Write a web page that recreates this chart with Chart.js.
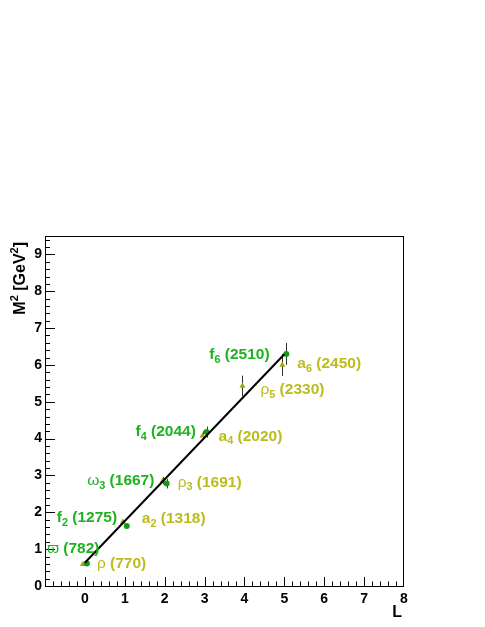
<!DOCTYPE html>
<html><head><meta charset="utf-8">
<script src="https://cdn.jsdelivr.net/npm/chart.js@4/dist/chart.umd.min.js"></script>
<style>html,body{margin:0;padding:0;background:#fff;}canvas{display:block;}</style>
</head><body>
<canvas id="c" width="485" height="627"></canvas>
<script>
// ---- data ----
const greenLabels = ['ϖ (782)', 'f_{2} (1275)', 'ω_{3} (1667)', 'f_{4} (2044)', 'f_{6} (2510)'];
const greenL      = [0, 1, 2, 3, 5];
const greenM2     = [0.612, 1.626, 2.779, 4.178, 6.30];
const greenErr    = [0.02, 0.03, 0.13, 0.15, 0.30];

const yellowLabels = ['ρ (770)', 'a_{2} (1318)', 'ρ_{3} (1691)', 'a_{4} (2020)', 'ρ_{5} (2330)', 'a_{6} (2450)'];
const yellowL      = [0, 1, 2, 3, 4, 5];
const yellowM2     = [0.593, 1.737, 2.859, 4.080, 5.43, 6.00];
const yellowErr    = [0.01, 0.05, 0.10, 0.12, 0.28, 0.30];

const trajL  = [0, 5];
const trajM2 = [0.63, 6.29];

const xTicks = [0, 1, 2, 3, 4, 5, 6, 7, 8];
const yTicks = [0, 1, 2, 3, 4, 5, 6, 7, 8, 9];

// ---- styles ----
const GREEN_TXT = '#1fb21f', GREEN_MK = '#129a12';
const YEL_TXT = '#bcbc1c', YEL_MK = '#a6a600';
const markerShift = 0.05;
const greenOffsets  = [[-40,-14.5],[-70,-8],[-79.5,-2.6],[-71,0],[-77,1]];
const yellowOffsets = [[14,0],[19,-3],[15,2],[16,1],[18,4],[15,-1]];
const FONT = '"Liberation Sans", Arial, Helvetica, sans-serif';
const LABEL_SIZE = 15.5;

function parseRich(s){
  const out=[]; const re=/_\{([^}]*)\}/g; let last=0, m;
  while((m=re.exec(s))){ if(m.index>last) out.push({t:s.slice(last,m.index),sub:false}); out.push({t:m[1],sub:true}); last=re.lastIndex; }
  if(last<s.length) out.push({t:s.slice(last),sub:false});
  return out;
}
function drawRich(ctx, s, x, yc, size, color){
  ctx.save(); ctx.fillStyle=color; ctx.textBaseline='middle'; ctx.textAlign='left';
  let cx=x;
  for(const seg of parseRich(s)){
    if(seg.sub){
      ctx.font='bold '+(size*0.7)+'px '+FONT;
      ctx.fillText(seg.t,cx,yc+size*0.3); cx+=ctx.measureText(seg.t).width;
    } else {
      for(const ch of seg.t){
        const greek = ch.charCodeAt(0)>=0x370 && ch.charCodeAt(0)<=0x3FF;
        ctx.font=(greek?'':'bold ')+size+'px '+FONT;
        ctx.fillText(ch,cx,yc); cx+=ctx.measureText(ch).width;
      }
    }
  }
  ctx.restore();
}

const rootPlugin = {
  id:'root',
  beforeDatasetsDraw(chart){
    const {ctx, scales:{x,y}} = chart;
    ctx.save(); ctx.strokeStyle='#333'; ctx.lineWidth=1;
    const bars=(Ls,Ms,Es,sh)=>Ls.forEach((l,i)=>{
      const px=Math.round(x.getPixelForValue(l+sh))+0.5;
      ctx.beginPath(); ctx.moveTo(px,y.getPixelForValue(Ms[i]-Es[i])); ctx.lineTo(px,y.getPixelForValue(Ms[i]+Es[i])); ctx.stroke();
    });
    bars(greenL,greenM2,greenErr,markerShift);
    bars(yellowL,yellowM2,yellowErr,-markerShift);
    ctx.restore();
  },
  afterDraw(chart){
    const {ctx, chartArea:a, scales:{x,y}} = chart;
    ctx.save();
    ctx.strokeStyle='#000'; ctx.lineWidth=1;
    ctx.strokeRect(Math.round(a.left)+0.5, Math.round(a.top)+0.5, Math.round(a.right-a.left)-1, Math.round(a.bottom-a.top));
    ctx.beginPath();
    for(let i=-5;i<=40;i++){
      const v=i/5; const px=Math.round(x.getPixelForValue(v))+0.5;
      if(px<a.left||px>a.right) continue;
      const len=(i%5===0)?9:4.5;
      ctx.moveTo(px,a.bottom); ctx.lineTo(px,a.bottom-len);
    }
    for(let i=0;i<=47;i++){
      const v=i/5; const py=Math.round(y.getPixelForValue(v))+0.5;
      if(py<a.top) continue;
      const len=(i%5===0)?10:5;
      ctx.moveTo(a.left,py); ctx.lineTo(a.left+len,py);
    }
    ctx.stroke();
    // labels
    greenL.forEach((l,i)=>{
      const px=x.getPixelForValue(l+markerShift), py=y.getPixelForValue(greenM2[i]);
      drawRich(ctx, greenLabels[i], px+greenOffsets[i][0], py+greenOffsets[i][1], LABEL_SIZE, GREEN_TXT);
    });
    yellowL.forEach((l,i)=>{
      const px=x.getPixelForValue(l-markerShift), py=y.getPixelForValue(yellowM2[i]);
      drawRich(ctx, yellowLabels[i], px+yellowOffsets[i][0], py+yellowOffsets[i][1], LABEL_SIZE, YEL_TXT);
    });
    // axis titles
    ctx.fillStyle='#000'; ctx.textBaseline='alphabetic';
    ctx.font='bold 16px '+FONT; ctx.textAlign='right';
    ctx.fillText('L', 402, 617);
    ctx.save();
    ctx.translate(25,242); ctx.rotate(-Math.PI/2);
    const parts=[['M',false],['2',true],[' [GeV',false],['2',true],[']',false]];
    let w=0; parts.forEach(([t,s])=>{ctx.font='bold '+(s?11:16)+'px '+FONT; w+=ctx.measureText(t).width;});
    let cx=-w; ctx.textAlign='left';
    parts.forEach(([t,s])=>{ctx.font='bold '+(s?11:16)+'px '+FONT; ctx.fillText(t,cx,s?-7:0); cx+=ctx.measureText(t).width;});
    ctx.restore();
    ctx.restore();
  }
};

new Chart(document.getElementById('c').getContext('2d'), {
  type:'scatter',
  data:{datasets:[
    {type:'line', data:trajL.map((l,i)=>({x:l,y:trajM2[i]})), borderColor:'#000', borderWidth:2, pointRadius:0, fill:false, tension:0, order:0},
    {data:greenL.map((l,i)=>({x:l+markerShift,y:greenM2[i]})), pointStyle:'circle', pointRadius:3, backgroundColor:GREEN_MK, borderColor:GREEN_MK, borderWidth:0, order:1},
    {data:yellowL.map((l,i)=>({x:l-markerShift,y:yellowM2[i]})), pointStyle:'triangle', pointRadius:3.5, backgroundColor:YEL_MK, borderColor:YEL_MK, borderWidth:0, order:2}
  ]},
  options:{
    responsive:false, animation:false, devicePixelRatio:1,
    layout:{padding:{top:236,right:81,left:0,bottom:0}},
    plugins:{legend:{display:false}, tooltip:{enabled:false}},
    scales:{
      x:{type:'linear', min:-1, max:8, afterFit(s){s.height=41;},
         grid:{display:false, drawTicks:false}, border:{display:false},
         afterBuildTicks(s){ s.ticks = [-1].concat(xTicks).map(v=>({value:v})); },
         ticks:{autoSkip:false, maxRotation:0, padding:5, color:'#000',
           font:{family:FONT, weight:'bold', size:14},
           callback:v=> xTicks.includes(v) ? String(v) : ''}},
      y:{type:'linear', min:0, max:9.5, afterFit(s){s.width=45;},
         grid:{display:false, drawTicks:false}, border:{display:false},
         afterBuildTicks(s){ s.ticks = yTicks.map(v=>({value:v})); },
         ticks:{autoSkip:false, padding:3, color:'#000',
           font:{family:FONT, weight:'bold', size:14},
           callback:v=> yTicks.includes(v) ? String(v) : ''}}
    }
  },
  plugins:[rootPlugin]
});
</script>
</body></html>
